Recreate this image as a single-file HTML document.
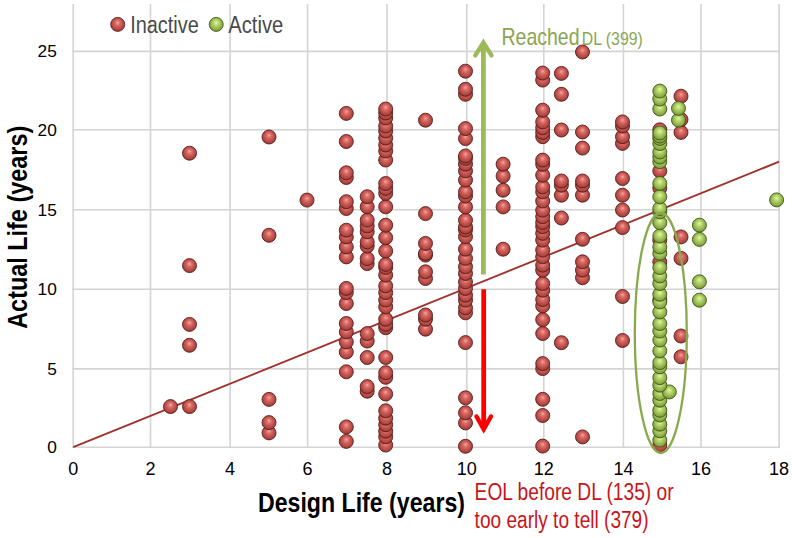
<!DOCTYPE html>
<html><head><meta charset="utf-8"><style>
html,body{margin:0;padding:0;background:#fff;}
body{width:792px;height:538px;overflow:hidden;position:relative;}
svg{position:absolute;left:0;top:0;}
text{font-family:"Liberation Sans",sans-serif;}
.r{fill:url(#rg);stroke:#5e1f1d;stroke-width:0.9;}
.g{fill:url(#gg);stroke:#425c16;stroke-width:0.9;}
</style></head><body>
<svg width="792" height="538" viewBox="0 0 792 538">
<defs>
<radialGradient id="rg" cx="0.5" cy="0.46" r="0.56" fx="0.5" fy="0.36">
<stop offset="0" stop-color="#f6a6a2"/>
<stop offset="0.3" stop-color="#da6e69"/>
<stop offset="0.6" stop-color="#c2524d"/>
<stop offset="0.85" stop-color="#a8443f"/>
<stop offset="1" stop-color="#6a2321"/>
</radialGradient>
<radialGradient id="gg" cx="0.5" cy="0.46" r="0.56" fx="0.5" fy="0.36">
<stop offset="0" stop-color="#e6f8a8"/>
<stop offset="0.3" stop-color="#bcdb72"/>
<stop offset="0.6" stop-color="#9dbd58"/>
<stop offset="0.85" stop-color="#84a442"/>
<stop offset="1" stop-color="#52721c"/>
</radialGradient>
</defs>
<g stroke="#d4d4d4" stroke-width="1.6"><line x1="73.2" y1="4" x2="73.2" y2="447.9"/><line x1="150.5" y1="4" x2="150.5" y2="447.9"/><line x1="230.1" y1="4" x2="230.1" y2="447.9"/><line x1="307.6" y1="4" x2="307.6" y2="447.9"/><line x1="387.0" y1="4" x2="387.0" y2="447.9"/><line x1="466.8" y1="4" x2="466.8" y2="447.9"/><line x1="543.8" y1="4" x2="543.8" y2="447.9"/><line x1="623.4" y1="4" x2="623.4" y2="447.9"/><line x1="701.0" y1="4" x2="701.0" y2="447.9"/><line x1="779.1" y1="4" x2="779.1" y2="447.9"/><line x1="72.4" y1="447.2" x2="779.9" y2="447.2"/><line x1="72.4" y1="368.9" x2="779.9" y2="368.9"/><line x1="72.4" y1="289.2" x2="779.9" y2="289.2"/><line x1="72.4" y1="209.8" x2="779.9" y2="209.8"/><line x1="72.4" y1="129.8" x2="779.9" y2="129.8"/><line x1="72.4" y1="51.4" x2="779.9" y2="51.4"/></g>
<line x1="73.2" y1="447.2" x2="779.1" y2="161.7" stroke="#a0322e" stroke-width="1.9"/>
<g><circle class="r" cx="465.5" cy="446.3" r="7"/><circle class="r" cx="542.7" cy="446.1" r="7"/><circle class="r" cx="385.7" cy="445.1" r="7"/><circle class="r" cx="659.8" cy="445.0" r="7"/><circle class="r" cx="346.3" cy="441.4" r="7"/><circle class="r" cx="582.5" cy="436.9" r="7"/><circle class="r" cx="385.7" cy="436.8" r="7"/><circle class="r" cx="269.0" cy="432.9" r="7"/><circle class="r" cx="385.7" cy="431.2" r="7"/><circle class="r" cx="346.3" cy="426.9" r="7"/><circle class="r" cx="385.7" cy="424.7" r="7"/><circle class="r" cx="465.5" cy="422.9" r="7"/><circle class="r" cx="269.0" cy="422.6" r="7"/><circle class="r" cx="385.7" cy="418.2" r="7"/><circle class="r" cx="542.7" cy="415.5" r="7"/><circle class="r" cx="465.5" cy="412.8" r="7"/><circle class="r" cx="385.7" cy="410.8" r="7"/><circle class="r" cx="189.5" cy="406.6" r="7"/><circle class="r" cx="170.5" cy="406.6" r="7"/><circle class="r" cx="269.0" cy="399.4" r="7"/><circle class="r" cx="542.7" cy="399.3" r="7"/><circle class="r" cx="465.5" cy="397.8" r="7"/><circle class="r" cx="385.7" cy="394.0" r="7"/><circle class="r" cx="367.2" cy="391.2" r="7"/><circle class="r" cx="367.2" cy="386.6" r="7"/><circle class="r" cx="385.7" cy="377.3" r="7"/><circle class="r" cx="385.7" cy="372.7" r="7"/><circle class="r" cx="346.3" cy="371.8" r="7"/><circle class="r" cx="542.7" cy="368.6" r="7"/><circle class="r" cx="542.7" cy="363.6" r="7"/><circle class="r" cx="385.7" cy="357.5" r="7"/><circle class="r" cx="367.2" cy="357.5" r="7"/><circle class="r" cx="681.0" cy="356.8" r="7"/><circle class="r" cx="346.3" cy="352.0" r="7"/><circle class="r" cx="189.5" cy="345.3" r="7"/><circle class="r" cx="561.4" cy="342.7" r="7"/><circle class="r" cx="465.5" cy="342.6" r="7"/><circle class="r" cx="346.3" cy="341.9" r="7"/><circle class="r" cx="367.2" cy="341.1" r="7"/><circle class="r" cx="622.5" cy="340.5" r="7"/><circle class="r" cx="681.0" cy="336.0" r="7"/><circle class="r" cx="367.2" cy="333.6" r="7"/><circle class="r" cx="542.7" cy="333.5" r="7"/><circle class="r" cx="346.3" cy="331.9" r="7"/><circle class="r" cx="425.5" cy="329.2" r="7"/><circle class="r" cx="385.7" cy="327.7" r="7"/><circle class="r" cx="385.7" cy="324.4" r="7"/><circle class="r" cx="189.5" cy="324.4" r="7"/><circle class="r" cx="346.3" cy="323.5" r="7"/><circle class="r" cx="542.7" cy="319.7" r="7"/><circle class="r" cx="385.7" cy="319.3" r="7"/><circle class="r" cx="425.5" cy="319.2" r="7"/><circle class="r" cx="425.5" cy="315.0" r="7"/><circle class="r" cx="465.5" cy="312.8" r="7"/><circle class="r" cx="465.5" cy="307.8" r="7"/><circle class="r" cx="385.7" cy="306.8" r="7"/><circle class="r" cx="542.7" cy="305.9" r="7"/><circle class="r" cx="346.3" cy="303.5" r="7"/><circle class="r" cx="465.5" cy="300.2" r="7"/><circle class="r" cx="385.7" cy="300.1" r="7"/><circle class="r" cx="659.8" cy="300.0" r="7"/><circle class="r" cx="542.7" cy="299.5" r="7"/><circle class="r" cx="622.5" cy="296.5" r="7"/><circle class="r" cx="465.5" cy="295.2" r="7"/><circle class="r" cx="385.7" cy="292.6" r="7"/><circle class="r" cx="346.3" cy="292.6" r="7"/><circle class="r" cx="542.7" cy="290.3" r="7"/><circle class="r" cx="465.5" cy="288.5" r="7"/><circle class="r" cx="346.3" cy="288.4" r="7"/><circle class="r" cx="385.7" cy="285.9" r="7"/><circle class="r" cx="542.7" cy="283.6" r="7"/><circle class="r" cx="465.5" cy="281.9" r="7"/><circle class="r" cx="425.5" cy="278.5" r="7"/><circle class="r" cx="582.5" cy="277.7" r="7"/><circle class="r" cx="385.7" cy="275.0" r="7"/><circle class="r" cx="465.5" cy="273.5" r="7"/><circle class="r" cx="425.5" cy="271.8" r="7"/><circle class="r" cx="582.5" cy="270.2" r="7"/><circle class="r" cx="542.7" cy="270.2" r="7"/><circle class="r" cx="385.7" cy="267.5" r="7"/><circle class="r" cx="465.5" cy="266.8" r="7"/><circle class="r" cx="189.5" cy="265.6" r="7"/><circle class="r" cx="542.7" cy="265.2" r="7"/><circle class="r" cx="385.7" cy="264.4" r="7"/><circle class="r" cx="367.2" cy="263.6" r="7"/><circle class="r" cx="659.8" cy="262.0" r="7"/><circle class="r" cx="582.5" cy="261.8" r="7"/><circle class="r" cx="367.2" cy="258.6" r="7"/><circle class="r" cx="681.0" cy="258.4" r="7"/><circle class="r" cx="465.5" cy="258.4" r="7"/><circle class="r" cx="346.3" cy="256.9" r="7"/><circle class="r" cx="542.7" cy="256.8" r="7"/><circle class="r" cx="425.5" cy="255.1" r="7"/><circle class="r" cx="425.5" cy="253.4" r="7"/><circle class="r" cx="385.7" cy="251.0" r="7"/><circle class="r" cx="542.7" cy="250.1" r="7"/><circle class="r" cx="503.1" cy="249.2" r="7"/><circle class="r" cx="465.5" cy="249.2" r="7"/><circle class="r" cx="346.3" cy="246.9" r="7"/><circle class="r" cx="367.2" cy="246.0" r="7"/><circle class="r" cx="425.5" cy="243.4" r="7"/><circle class="r" cx="367.2" cy="241.9" r="7"/><circle class="r" cx="542.7" cy="240.1" r="7"/><circle class="r" cx="659.8" cy="240.0" r="7"/><circle class="r" cx="582.5" cy="239.3" r="7"/><circle class="r" cx="385.7" cy="237.7" r="7"/><circle class="r" cx="681.0" cy="236.9" r="7"/><circle class="r" cx="346.3" cy="236.9" r="7"/><circle class="r" cx="465.5" cy="236.7" r="7"/><circle class="r" cx="269.0" cy="235.3" r="7"/><circle class="r" cx="542.7" cy="233.4" r="7"/><circle class="r" cx="367.2" cy="231.8" r="7"/><circle class="r" cx="346.3" cy="230.2" r="7"/><circle class="r" cx="465.5" cy="230.0" r="7"/><circle class="r" cx="622.5" cy="227.6" r="7"/><circle class="r" cx="465.5" cy="227.0" r="7"/><circle class="r" cx="542.7" cy="226.7" r="7"/><circle class="r" cx="367.2" cy="226.0" r="7"/><circle class="r" cx="385.7" cy="225.2" r="7"/><circle class="r" cx="542.7" cy="222.5" r="7"/><circle class="r" cx="465.5" cy="220.3" r="7"/><circle class="r" cx="367.2" cy="220.1" r="7"/><circle class="r" cx="561.4" cy="218.0" r="7"/><circle class="r" cx="542.7" cy="216.7" r="7"/><circle class="r" cx="425.5" cy="213.6" r="7"/><circle class="r" cx="542.7" cy="210.3" r="7"/><circle class="r" cx="622.5" cy="210.0" r="7"/><circle class="r" cx="346.3" cy="208.5" r="7"/><circle class="r" cx="503.1" cy="206.9" r="7"/><circle class="r" cx="465.5" cy="206.9" r="7"/><circle class="r" cx="385.7" cy="206.8" r="7"/><circle class="r" cx="367.2" cy="206.8" r="7"/><circle class="r" cx="346.3" cy="201.7" r="7"/><circle class="r" cx="542.7" cy="201.1" r="7"/><circle class="r" cx="307.0" cy="200.1" r="7"/><circle class="r" cx="367.2" cy="196.7" r="7"/><circle class="r" cx="465.5" cy="196.0" r="7"/><circle class="r" cx="622.5" cy="195.2" r="7"/><circle class="r" cx="582.5" cy="195.2" r="7"/><circle class="r" cx="561.4" cy="195.2" r="7"/><circle class="r" cx="385.7" cy="193.4" r="7"/><circle class="r" cx="542.7" cy="191.9" r="7"/><circle class="r" cx="465.5" cy="191.8" r="7"/><circle class="r" cx="503.1" cy="190.2" r="7"/><circle class="r" cx="385.7" cy="188.4" r="7"/><circle class="r" cx="659.8" cy="188.0" r="7"/><circle class="r" cx="542.7" cy="186.9" r="7"/><circle class="r" cx="582.5" cy="185.2" r="7"/><circle class="r" cx="561.4" cy="185.2" r="7"/><circle class="r" cx="385.7" cy="183.5" r="7"/><circle class="r" cx="582.5" cy="181.0" r="7"/><circle class="r" cx="561.4" cy="181.0" r="7"/><circle class="r" cx="465.5" cy="180.1" r="7"/><circle class="r" cx="622.5" cy="178.5" r="7"/><circle class="r" cx="346.3" cy="177.5" r="7"/><circle class="r" cx="503.1" cy="176.0" r="7"/><circle class="r" cx="542.7" cy="175.2" r="7"/><circle class="r" cx="346.3" cy="172.8" r="7"/><circle class="r" cx="659.8" cy="170.9" r="7"/><circle class="r" cx="465.5" cy="170.9" r="7"/><circle class="r" cx="542.7" cy="164.3" r="7"/><circle class="r" cx="503.1" cy="164.2" r="7"/><circle class="r" cx="465.5" cy="164.2" r="7"/><circle class="r" cx="542.7" cy="160.1" r="7"/><circle class="r" cx="385.7" cy="160.0" r="7"/><circle class="r" cx="465.5" cy="158.4" r="7"/><circle class="r" cx="465.5" cy="155.9" r="7"/><circle class="r" cx="189.5" cy="153.2" r="7"/><circle class="r" cx="385.7" cy="151.0" r="7"/><circle class="r" cx="582.5" cy="148.1" r="7"/><circle class="r" cx="385.7" cy="145.0" r="7"/><circle class="r" cx="622.5" cy="143.4" r="7"/><circle class="r" cx="346.3" cy="141.5" r="7"/><circle class="r" cx="465.5" cy="138.6" r="7"/><circle class="r" cx="385.7" cy="138.0" r="7"/><circle class="r" cx="269.0" cy="137.0" r="7"/><circle class="r" cx="622.5" cy="136.7" r="7"/><circle class="r" cx="542.7" cy="136.7" r="7"/><circle class="r" cx="542.7" cy="132.5" r="7"/><circle class="r" cx="681.0" cy="132.4" r="7"/><circle class="r" cx="582.5" cy="132.0" r="7"/><circle class="r" cx="385.7" cy="131.0" r="7"/><circle class="r" cx="561.4" cy="130.0" r="7"/><circle class="r" cx="659.8" cy="129.8" r="7"/><circle class="r" cx="465.5" cy="128.6" r="7"/><circle class="r" cx="542.7" cy="127.8" r="7"/><circle class="r" cx="622.5" cy="126.0" r="7"/><circle class="r" cx="385.7" cy="126.0" r="7"/><circle class="r" cx="622.5" cy="121.9" r="7"/><circle class="r" cx="542.7" cy="121.9" r="7"/><circle class="r" cx="425.5" cy="120.2" r="7"/><circle class="r" cx="681.0" cy="119.6" r="7"/><circle class="r" cx="385.7" cy="118.0" r="7"/><circle class="r" cx="346.3" cy="113.4" r="7"/><circle class="r" cx="385.7" cy="113.0" r="7"/><circle class="r" cx="542.7" cy="110.2" r="7"/><circle class="r" cx="385.7" cy="109.0" r="7"/><circle class="r" cx="681.0" cy="96.2" r="7"/><circle class="r" cx="561.4" cy="94.3" r="7"/><circle class="r" cx="465.5" cy="94.3" r="7"/><circle class="r" cx="465.5" cy="89.3" r="7"/><circle class="r" cx="542.7" cy="80.1" r="7"/><circle class="r" cx="561.4" cy="73.4" r="7"/><circle class="r" cx="542.7" cy="73.1" r="7"/><circle class="r" cx="465.5" cy="71.2" r="7"/><circle class="r" cx="582.5" cy="52.0" r="7"/></g>
<g><circle class="g" cx="659.8" cy="440.1" r="7"/><circle class="g" cx="659.8" cy="430.9" r="7"/><circle class="g" cx="659.8" cy="424.2" r="7"/><circle class="g" cx="659.8" cy="415.0" r="7"/><circle class="g" cx="659.8" cy="410.3" r="7"/><circle class="g" cx="659.8" cy="400.2" r="7"/><circle class="g" cx="659.8" cy="393.5" r="7"/><circle class="g" cx="669.3" cy="391.9" r="7"/><circle class="g" cx="659.8" cy="385.2" r="7"/><circle class="g" cx="659.8" cy="377.7" r="7"/><circle class="g" cx="659.8" cy="366.8" r="7"/><circle class="g" cx="659.8" cy="362.6" r="7"/><circle class="g" cx="659.8" cy="350.9" r="7"/><circle class="g" cx="659.8" cy="340.0" r="7"/><circle class="g" cx="659.8" cy="331.1" r="7"/><circle class="g" cx="659.8" cy="323.6" r="7"/><circle class="g" cx="659.8" cy="311.9" r="7"/><circle class="g" cx="659.8" cy="301.9" r="7"/><circle class="g" cx="699.4" cy="300.2" r="7"/><circle class="g" cx="659.8" cy="294.3" r="7"/><circle class="g" cx="659.8" cy="283.5" r="7"/><circle class="g" cx="699.4" cy="281.8" r="7"/><circle class="g" cx="659.8" cy="276.0" r="7"/><circle class="g" cx="659.8" cy="267.6" r="7"/><circle class="g" cx="659.8" cy="253.4" r="7"/><circle class="g" cx="659.8" cy="247.0" r="7"/><circle class="g" cx="699.4" cy="239.4" r="7"/><circle class="g" cx="659.8" cy="236.0" r="7"/><circle class="g" cx="699.4" cy="225.2" r="7"/><circle class="g" cx="659.8" cy="222.7" r="7"/><circle class="g" cx="659.8" cy="211.8" r="7"/><circle class="g" cx="659.8" cy="208.5" r="7"/><circle class="g" cx="776.6" cy="199.9" r="7"/><circle class="g" cx="659.8" cy="196.8" r="7"/><circle class="g" cx="659.8" cy="183.4" r="7"/><circle class="g" cx="659.8" cy="161.7" r="7"/><circle class="g" cx="659.8" cy="157.0" r="7"/><circle class="g" cx="659.8" cy="152.0" r="7"/><circle class="g" cx="659.8" cy="143.6" r="7"/><circle class="g" cx="659.8" cy="138.5" r="7"/><circle class="g" cx="659.8" cy="136.0" r="7"/><circle class="g" cx="659.8" cy="133.0" r="7"/><circle class="g" cx="678.5" cy="120.1" r="7"/><circle class="g" cx="659.8" cy="109.0" r="7"/><circle class="g" cx="678.5" cy="108.4" r="7"/><circle class="g" cx="659.8" cy="99.0" r="7"/><circle class="g" cx="659.8" cy="91.1" r="7"/></g>

<!-- legend -->
<circle class="r" cx="117.7" cy="24.4" r="7"/>
<text x="130.2" y="32.6" font-size="23" fill="#4a4a4a" textLength="68.5" lengthAdjust="spacingAndGlyphs">Inactive</text>
<circle class="g" cx="216.2" cy="24.4" r="7"/>
<text x="228.3" y="32.6" font-size="23" fill="#4a4a4a" textLength="55" lengthAdjust="spacingAndGlyphs">Active</text>
<!-- y tick labels -->
<g font-size="17.3" fill="#000" text-anchor="end">
<text x="56.8" y="453.0">0</text>
<text x="56.8" y="374.7">5</text>
<text x="56.8" y="295.0">10</text>
<text x="56.8" y="215.6">15</text>
<text x="56.8" y="135.6">20</text>
<text x="56.8" y="57.2">25</text>
</g>
<g font-size="18" fill="#000" text-anchor="middle">
<text x="73.2" y="474.7">0</text><text x="150.5" y="474.7">2</text><text x="230.1" y="474.7">4</text><text x="307.6" y="474.7">6</text><text x="387.0" y="474.7">8</text><text x="466.8" y="474.7">10</text><text x="543.8" y="474.7">12</text><text x="623.4" y="474.7">14</text><text x="701.0" y="474.7">16</text><text x="779.1" y="474.7">18</text>
</g>
<text x="258" y="511.8" font-size="27.5" font-weight="bold" fill="#000" textLength="207" lengthAdjust="spacingAndGlyphs">Design Life (years)</text>
<text transform="translate(26.8,328.8) rotate(-90)" x="0" y="0" font-size="27" font-weight="bold" fill="#000" textLength="203" lengthAdjust="spacingAndGlyphs">Actual Life (years)</text>
<!-- green ellipse -->
<ellipse cx="660.8" cy="333" rx="26" ry="120" fill="none" stroke="#88aa4c" stroke-width="2.3"/>
<!-- arrows -->
<g stroke="#9bbb59" stroke-width="4.8" fill="none">
<line x1="483.4" y1="274.5" x2="483.4" y2="44"/>
<polyline points="475.3,55.4 483.4,42.6 491.5,55.4" stroke-width="4.4" stroke-linecap="round" stroke-linejoin="miter"/>
</g>
<g stroke="#ff0000" stroke-width="4.8" fill="none">
<line x1="483.7" y1="289.2" x2="483.7" y2="428"/>
<polyline points="476.5,416.5 483.7,429.2 491,416.5" stroke-width="4.4" stroke-linecap="round" stroke-linejoin="miter"/>
</g>
<text x="501.5" y="44.7" font-size="23.2" fill="#8aa552" textLength="78" lengthAdjust="spacingAndGlyphs">Reached</text>
<text x="581.8" y="44.8" font-size="18.5" fill="#8aa552" textLength="61" lengthAdjust="spacingAndGlyphs">DL (399)</text>
<text x="474.6" y="500" font-size="23" fill="#c8141a" textLength="199" lengthAdjust="spacingAndGlyphs">EOL before DL (135) or</text>
<text x="474.6" y="527.5" font-size="23" fill="#c8141a" textLength="174" lengthAdjust="spacingAndGlyphs">too early to tell (379)</text>
</svg>
</body></html>
